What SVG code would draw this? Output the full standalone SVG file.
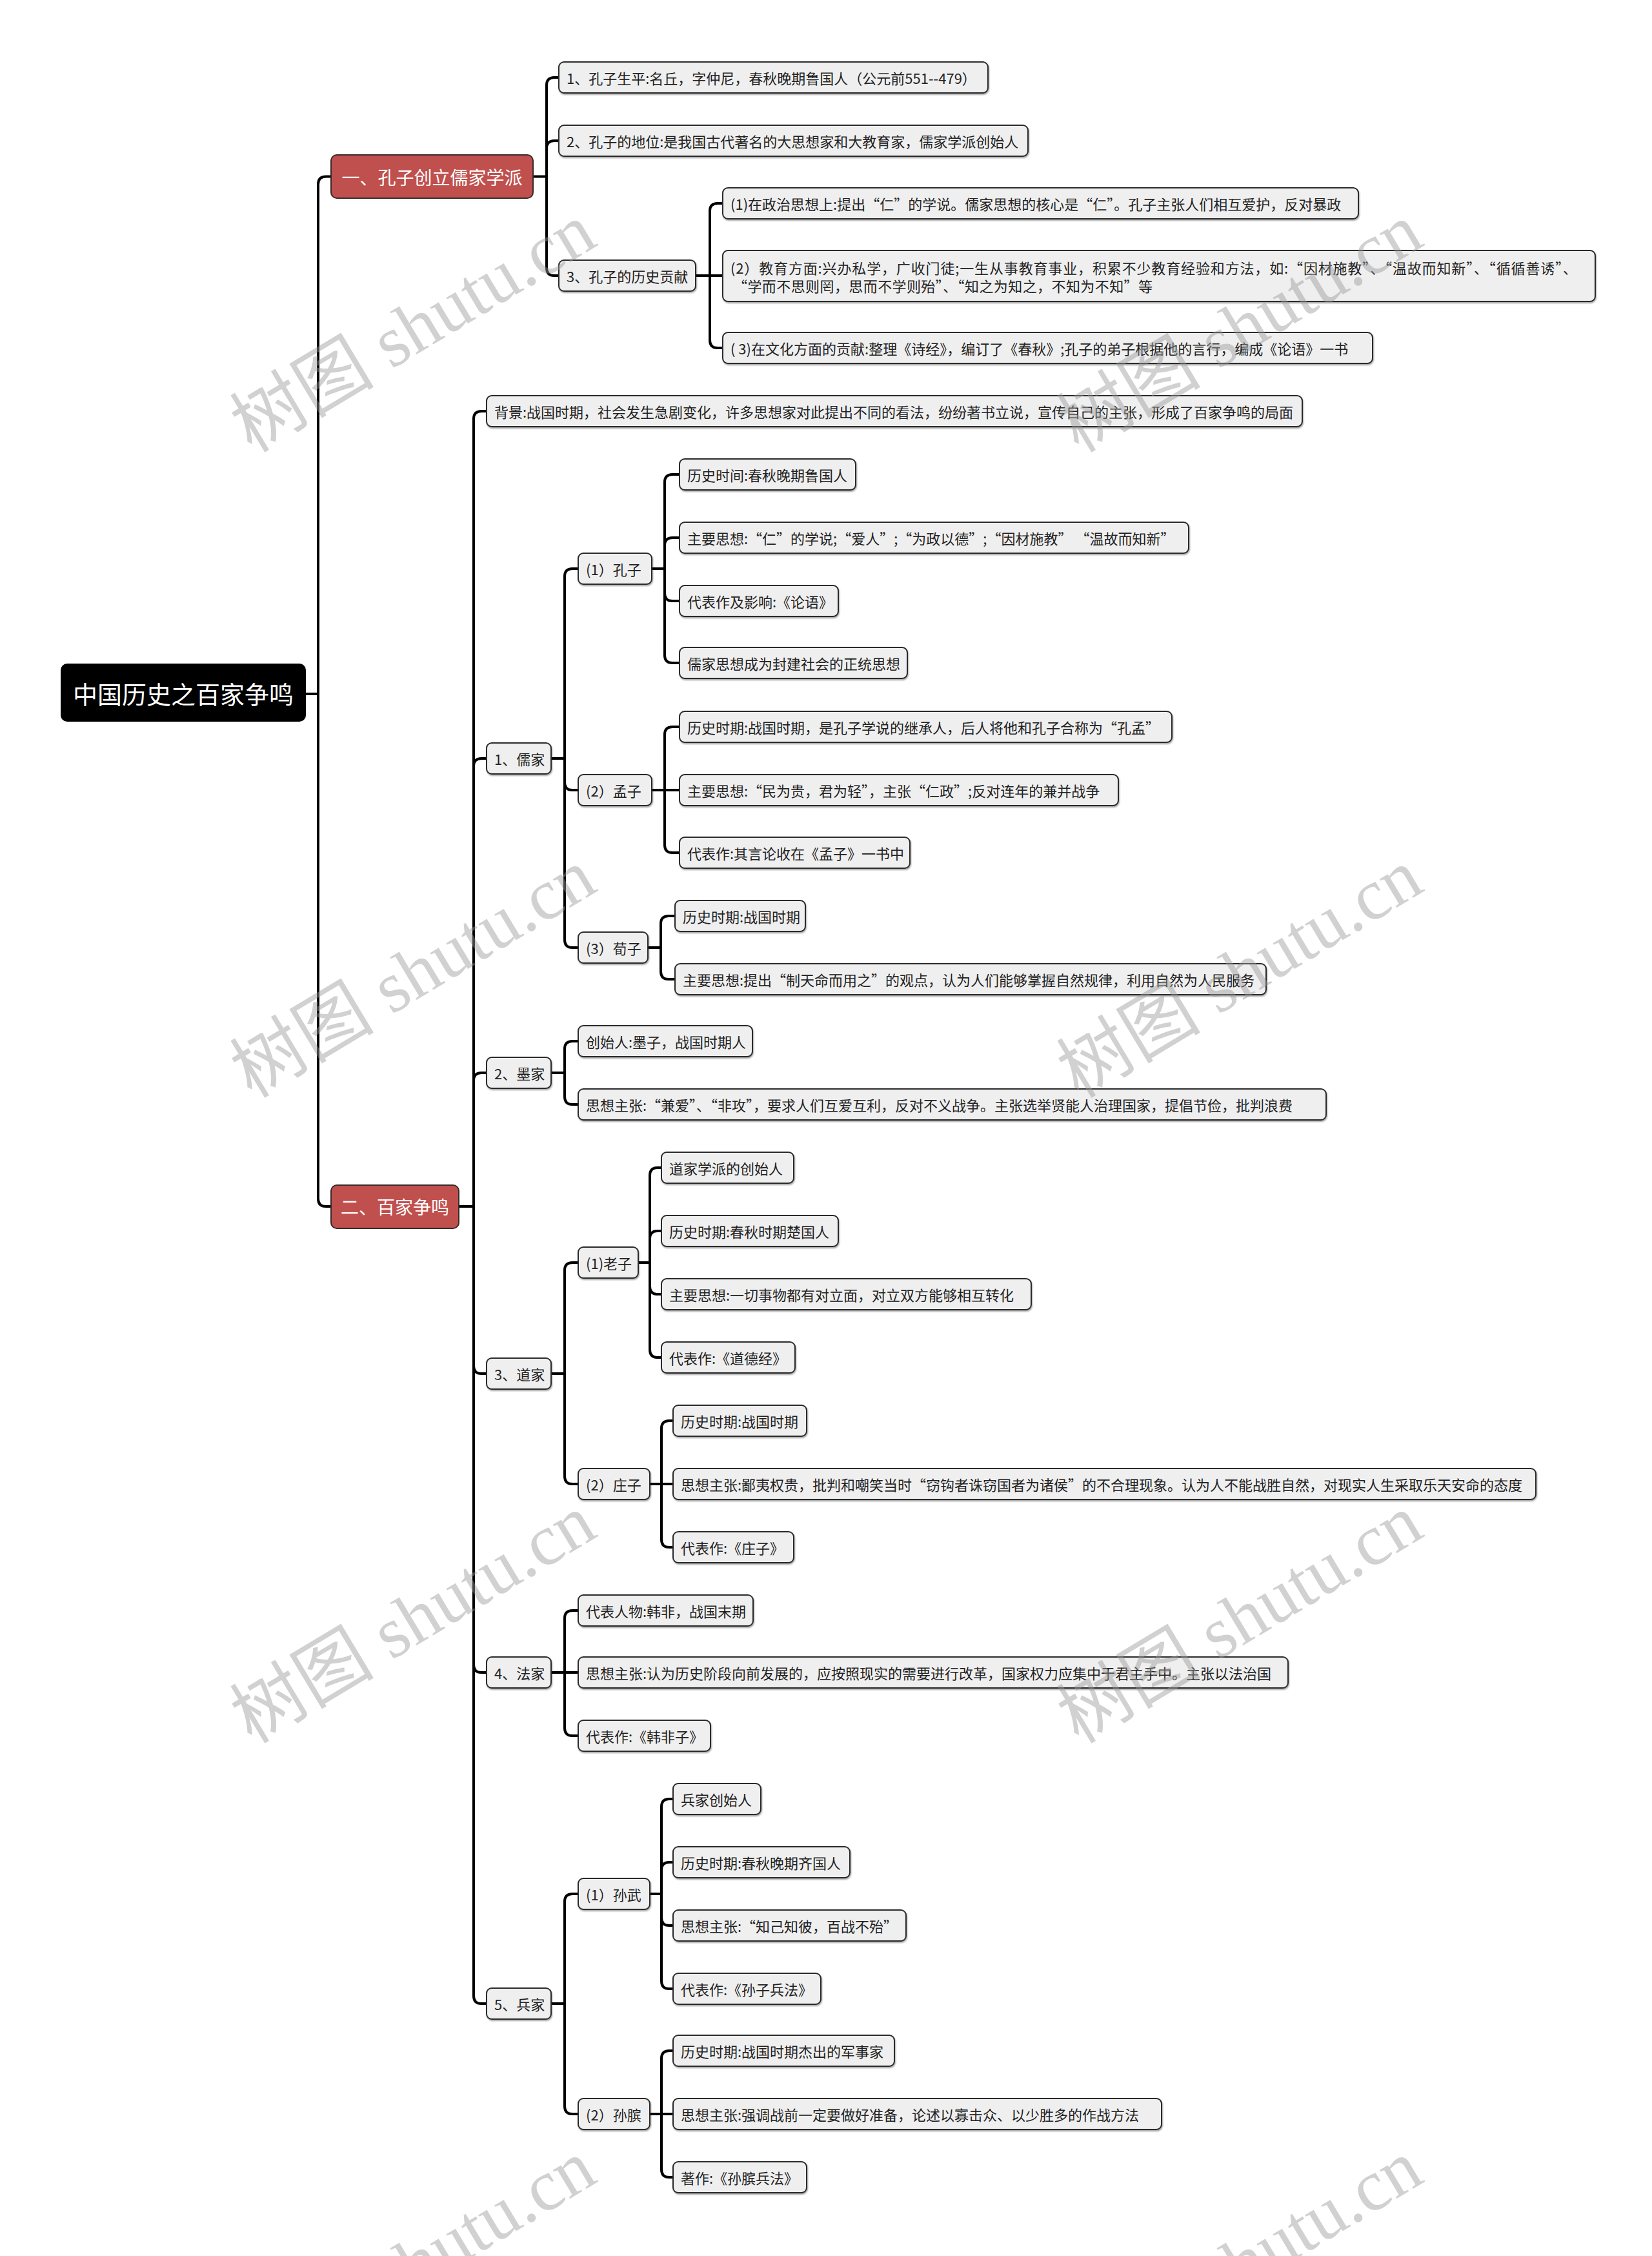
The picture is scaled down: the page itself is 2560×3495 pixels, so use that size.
<svg xmlns="http://www.w3.org/2000/svg" width="2560" height="3495" viewBox="0 0 2560 3495">
<style>
.bx{fill:#efefef;stroke:#2a2a2a;stroke-width:2;filter:drop-shadow(1px 2px 1px rgba(0,0,0,0.35))}
.rd{fill:#c0504d;stroke:#3a2a2a;stroke-width:2}
.rt{fill:#000}
.t{font-family:"Noto Sans CJK SC","Microsoft YaHei",sans-serif;font-size:22px;fill:#222;dominant-baseline:central}
.tr{font-family:"Noto Sans CJK SC",sans-serif;font-size:28px;fill:#fff;dominant-baseline:central;text-anchor:middle}
.t0{font-family:"Noto Sans CJK SC",sans-serif;font-size:38px;fill:#fff;dominant-baseline:central;text-anchor:middle}
.c{fill:none;stroke:#000;stroke-width:4;stroke-linejoin:round;stroke-linecap:round}
.wm{font-family:"Liberation Serif","Noto Sans CJK SC",serif;font-size:112px;fill:#9a9a9a;opacity:0.45;text-anchor:middle}
</style>
<rect width="2560" height="3495" fill="#fff"/>
<g id="connectors" class="c">
<path d="M474 1075H493V285.5Q493 273.5 505 273.5H513M493 1075V1857Q493 1869 505 1869H513"/>
<path d="M826 273.5H847V132Q847 120 859 120H866M847 273.5V230Q847 218 859 218H866M847 273.5V415Q847 427 859 427H866"/>
<path d="M1078 427H1100V327Q1100 315 1112 315H1120M1078 427H1120M1100 427V527Q1100 539 1112 539H1120"/>
<path d="M711 1869H734V649Q734 637 746 637H754M734 1869V1187Q734 1175 746 1175H754M734 1869V1674Q734 1662 746 1662H754M734 1869V2116Q734 2128 746 2128H754M734 1869V2579Q734 2591 746 2591H754M734 1869V3092Q734 3104 746 3104H754"/>
<path d="M854 1175H875V893Q875 881 887 881H896M875 1175V1212Q875 1224 887 1224H896M875 1175V1456Q875 1468 887 1468H896"/>
<path d="M1010 881H1030V747Q1030 735 1042 735H1053M1030 881V845Q1030 833 1042 833H1053M1030 881V919Q1030 931 1042 931H1053M1030 881V1015Q1030 1027 1042 1027H1053"/>
<path d="M1010 1224H1030V1138Q1030 1126 1042 1126H1053M1010 1224H1053M1030 1224V1309Q1030 1321 1042 1321H1053"/>
<path d="M1004 1468H1024V1431Q1024 1419 1036 1419H1046M1024 1468V1505Q1024 1517 1036 1517H1046"/>
<path d="M854 1662H875V1625Q875 1613 887 1613H896M875 1662V1699Q875 1711 887 1711H896"/>
<path d="M854 2128H875V1968Q875 1956 887 1956H896M875 2128V2287Q875 2299 887 2299H896"/>
<path d="M989 1956H1007V1821Q1007 1809 1019 1809H1025M1007 1956V1919Q1007 1907 1019 1907H1025M1007 1956V1993Q1007 2005 1019 2005H1025M1007 1956V2091Q1007 2103 1019 2103H1025"/>
<path d="M1007 2299H1025V2213Q1025 2201 1037 2201H1043M1007 2299H1043M1025 2299V2385Q1025 2397 1037 2397H1043"/>
<path d="M854 2591H875V2507Q875 2495 887 2495H896M854 2591H896M875 2591V2677Q875 2689 887 2689H896"/>
<path d="M854 3104H875V2946Q875 2934 887 2934H896M875 3104V3263Q875 3275 887 3275H896"/>
<path d="M1007 2934H1025V2799Q1025 2787 1037 2787H1043M1025 2934V2897Q1025 2885 1037 2885H1043M1025 2934V2971Q1025 2983 1037 2983H1043M1025 2934V3069Q1025 3081 1037 3081H1043"/>
<path d="M1007 3275H1025V3189Q1025 3177 1037 3177H1043M1007 3275H1043M1025 3275V3361Q1025 3373 1037 3373H1043"/>
</g>
<g id="root"><rect class="rt" x="94" y="1028" width="380" height="90" rx="10"/><text class="t0" x="284" y="1073">中国历史之百家争鸣</text></g>
<g id="n1"><rect class="rd" x="513" y="240" width="313" height="67" rx="9"/><text class="tr" x="669.5" y="273.5">一、孔子创立儒家学派</text></g>
<g id="n2"><rect class="rd" x="513" y="1836" width="198" height="67" rx="9"/><text class="tr" x="612" y="1869">二、百家争鸣</text></g>
<g id="n1-1"><rect class="bx" x="866" y="96" width="665" height="48" rx="8"/><text class="t" x="878" y="120">1、孔子生平:名丘，字仲尼，春秋晚期鲁国人（公元前551--479）</text></g>
<g id="n1-2"><rect class="bx" x="866" y="194" width="727" height="48" rx="8"/><text class="t" x="878" y="218">2、孔子的地位:是我国古代著名的大思想家和大教育家，儒家学派创始人</text></g>
<g id="n1-3"><rect class="bx" x="866" y="403" width="212" height="48" rx="8"/><text class="t" x="878" y="427">3、孔子的历史贡献</text></g>
<g id="n1-3-1"><rect class="bx" x="1120" y="291" width="985" height="48" rx="8"/><text class="t" x="1132" y="315">(1)在政治思想上:提出“仁”的学说。儒家思想的核心是“仁”。孔子主张人们相互爱护，反对暴政</text></g>
<g id="n1-3-2"><rect class="bx" x="1120" y="388" width="1352" height="79" rx="8"/><text class="t" x="1132" y="413.5" textLength="1312" lengthAdjust="spacing">(2）教育方面:兴办私学，广收门徒;一生从事教育事业，积累不少教育经验和方法，如:“因材施教”、“温故而知新”、“循循善诱”、</text><text class="t" x="1136" y="441.5" textLength="650" lengthAdjust="spacing">“学而不思则罔，思而不学则殆”、“知之为知之，不知为不知”等</text></g>
<g id="n1-3-3"><rect class="bx" x="1120" y="515" width="1007" height="48" rx="8"/><text class="t" x="1132" y="539">( 3)在文化方面的贡献:整理《诗经》，编订了《春秋》;孔子的弟子根据他的言行，编成《论语》一书</text></g>
<g id="bg"><rect class="bx" x="754" y="613" width="1264" height="48" rx="8"/><text class="t" x="766" y="637">背景:战国时期，社会发生急剧变化，许多思想家对此提出不同的看法，纷纷著书立说，宣传自己的主张，形成了百家争鸣的局面</text></g>
<g id="rj"><rect class="bx" x="754" y="1151" width="100" height="48" rx="8"/><text class="t" x="766" y="1175">1、儒家</text></g>
<g id="kz"><rect class="bx" x="896" y="857" width="114" height="48" rx="8"/><text class="t" x="908" y="881">(1）孔子</text></g>
<g id="kz1"><rect class="bx" x="1053" y="711" width="273" height="48" rx="8"/><text class="t" x="1065" y="735">历史时间:春秋晚期鲁国人</text></g>
<g id="kz2"><rect class="bx" x="1053" y="809" width="789" height="48" rx="8"/><text class="t" x="1065" y="833">主要思想:“仁”的学说;“爱人”;“为政以德”;“因材施教” “温故而知新”</text></g>
<g id="kz3"><rect class="bx" x="1053" y="907" width="246" height="48" rx="8"/><text class="t" x="1065" y="931">代表作及影响:《论语》</text></g>
<g id="kz4"><rect class="bx" x="1053" y="1003" width="353" height="48" rx="8"/><text class="t" x="1065" y="1027">儒家思想成为封建社会的正统思想</text></g>
<g id="mz"><rect class="bx" x="896" y="1200" width="114" height="48" rx="8"/><text class="t" x="908" y="1224">(2）孟子</text></g>
<g id="mz1"><rect class="bx" x="1053" y="1102" width="763" height="48" rx="8"/><text class="t" x="1065" y="1126">历史时期:战国时期，是孔子学说的继承人，后人将他和孔子合称为“孔孟”</text></g>
<g id="mz2"><rect class="bx" x="1053" y="1200" width="680" height="48" rx="8"/><text class="t" x="1065" y="1224">主要思想:“民为贵，君为轻”，主张“仁政”;反对连年的兼并战争</text></g>
<g id="mz3"><rect class="bx" x="1053" y="1297" width="357" height="48" rx="8"/><text class="t" x="1065" y="1321">代表作:其言论收在《孟子》一书中</text></g>
<g id="xz"><rect class="bx" x="896" y="1444" width="108" height="48" rx="8"/><text class="t" x="908" y="1468">(3）荀子</text></g>
<g id="xz1"><rect class="bx" x="1046" y="1395" width="202" height="48" rx="8"/><text class="t" x="1058" y="1419">历史时期:战国时期</text></g>
<g id="xz2"><rect class="bx" x="1046" y="1493" width="916" height="48" rx="8"/><text class="t" x="1058" y="1517">主要思想:提出“制天命而用之”的观点，认为人们能够掌握自然规律，利用自然为人民服务</text></g>
<g id="mj"><rect class="bx" x="754" y="1638" width="100" height="48" rx="8"/><text class="t" x="766" y="1662">2、墨家</text></g>
<g id="mj1"><rect class="bx" x="896" y="1589" width="270" height="48" rx="8"/><text class="t" x="908" y="1613">创始人:墨子，战国时期人</text></g>
<g id="mj2"><rect class="bx" x="896" y="1687" width="1159" height="48" rx="8"/><text class="t" x="908" y="1711">思想主张:“兼爱”、“非攻”，要求人们互爱互利，反对不义战争。主张选举贤能人治理国家，提倡节俭，批判浪费</text></g>
<g id="dj"><rect class="bx" x="754" y="2104" width="100" height="48" rx="8"/><text class="t" x="766" y="2128">3、道家</text></g>
<g id="lz"><rect class="bx" x="896" y="1932" width="93" height="48" rx="8"/><text class="t" x="908" y="1956">(1)老子</text></g>
<g id="lz1"><rect class="bx" x="1025" y="1785" width="205" height="48" rx="8"/><text class="t" x="1037" y="1809">道家学派的创始人</text></g>
<g id="lz2"><rect class="bx" x="1025" y="1883" width="274" height="48" rx="8"/><text class="t" x="1037" y="1907">历史时期:春秋时期楚国人</text></g>
<g id="lz3"><rect class="bx" x="1025" y="1981" width="573" height="48" rx="8"/><text class="t" x="1037" y="2005">主要思想:一切事物都有对立面，对立双方能够相互转化</text></g>
<g id="lz4"><rect class="bx" x="1025" y="2079" width="207" height="48" rx="8"/><text class="t" x="1037" y="2103">代表作:《道德经》</text></g>
<g id="zz"><rect class="bx" x="896" y="2275" width="111" height="48" rx="8"/><text class="t" x="908" y="2299">(2）庄子</text></g>
<g id="zz1"><rect class="bx" x="1043" y="2177" width="207" height="48" rx="8"/><text class="t" x="1055" y="2201">历史时期:战国时期</text></g>
<g id="zz2"><rect class="bx" x="1043" y="2275" width="1337" height="48" rx="8"/><text class="t" x="1055" y="2299">思想主张:鄙夷权贵，批判和嘲笑当时“窃钩者诛窃国者为诸侯”的不合理现象。认为人不能战胜自然，对现实人生采取乐天安命的态度</text></g>
<g id="zz3"><rect class="bx" x="1043" y="2373" width="187" height="48" rx="8"/><text class="t" x="1055" y="2397">代表作:《庄子》</text></g>
<g id="fj"><rect class="bx" x="754" y="2567" width="100" height="48" rx="8"/><text class="t" x="766" y="2591">4、法家</text></g>
<g id="fj1"><rect class="bx" x="896" y="2471" width="271" height="48" rx="8"/><text class="t" x="908" y="2495">代表人物:韩非，战国末期</text></g>
<g id="fj2"><rect class="bx" x="896" y="2567" width="1100" height="48" rx="8"/><text class="t" x="908" y="2591">思想主张:认为历史阶段向前发展的，应按照现实的需要进行改革，国家权力应集中于君主手中。主张以法治国</text></g>
<g id="fj3"><rect class="bx" x="896" y="2665" width="205" height="48" rx="8"/><text class="t" x="908" y="2689">代表作:《韩非子》</text></g>
<g id="bj"><rect class="bx" x="754" y="3080" width="100" height="48" rx="8"/><text class="t" x="766" y="3104">5、兵家</text></g>
<g id="sw"><rect class="bx" x="896" y="2910" width="111" height="48" rx="8"/><text class="t" x="908" y="2934">(1）孙武</text></g>
<g id="sw1"><rect class="bx" x="1043" y="2763" width="136" height="48" rx="8"/><text class="t" x="1055" y="2787">兵家创始人</text></g>
<g id="sw2"><rect class="bx" x="1043" y="2861" width="274" height="48" rx="8"/><text class="t" x="1055" y="2885">历史时期:春秋晚期齐国人</text></g>
<g id="sw3"><rect class="bx" x="1043" y="2959" width="361" height="48" rx="8"/><text class="t" x="1055" y="2983">思想主张:“知己知彼，百战不殆”</text></g>
<g id="sw4"><rect class="bx" x="1043" y="3057" width="229" height="48" rx="8"/><text class="t" x="1055" y="3081">代表作:《孙子兵法》</text></g>
<g id="sb"><rect class="bx" x="896" y="3251" width="111" height="48" rx="8"/><text class="t" x="908" y="3275">(2）孙膑</text></g>
<g id="sb1"><rect class="bx" x="1043" y="3153" width="343" height="48" rx="8"/><text class="t" x="1055" y="3177">历史时期:战国时期杰出的军事家</text></g>
<g id="sb2"><rect class="bx" x="1043" y="3251" width="757" height="48" rx="8"/><text class="t" x="1055" y="3275">思想主张:强调战前一定要做好准备，论述以寡击众、以少胜多的作战方法</text></g>
<g id="sb3"><rect class="bx" x="1043" y="3349" width="207" height="48" rx="8"/><text class="t" x="1055" y="3373">著作:《孙膑兵法》</text></g>
<g id="watermarks">
<text class="wm" transform="translate(640 508) rotate(-31)" dy="38">树图 shutu.cn</text>
<text class="wm" transform="translate(1921 508) rotate(-31)" dy="38">树图 shutu.cn</text>
<text class="wm" transform="translate(640 1508) rotate(-31)" dy="38">树图 shutu.cn</text>
<text class="wm" transform="translate(1921 1508) rotate(-31)" dy="38">树图 shutu.cn</text>
<text class="wm" transform="translate(640 2508) rotate(-31)" dy="38">树图 shutu.cn</text>
<text class="wm" transform="translate(1921 2508) rotate(-31)" dy="38">树图 shutu.cn</text>
<text class="wm" transform="translate(640 3508) rotate(-31)" dy="38">树图 shutu.cn</text>
<text class="wm" transform="translate(1921 3508) rotate(-31)" dy="38">树图 shutu.cn</text>
</g>
</svg>
